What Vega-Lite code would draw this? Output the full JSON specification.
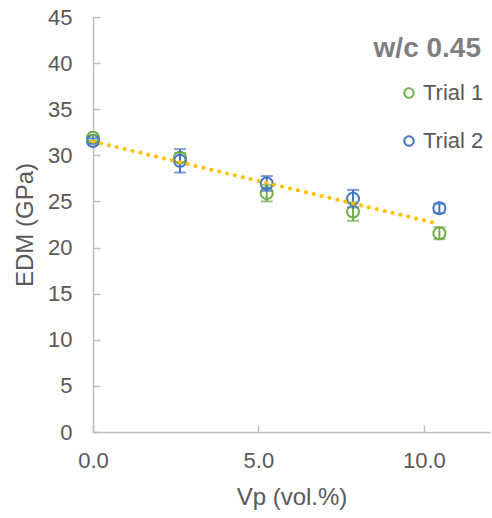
{
  "$schema": "https://vega.github.io/schema/vega-lite/v6.json",
  "width": 397,
  "height": 415,
  "autosize": {"type": "none"},
  "padding": {"left": 93, "top": 17, "right": 2, "bottom": 86},
  "background": "white",
  "title": {
    "text": "w/c 0.45",
    "anchor": "end",
    "orient": "top",
    "frame": "group",
    "offset": -42,
    "baseline": "alphabetic",
    "dx": -9,
    "dy": 37,
    "font": "Liberation Sans",
    "fontSize": 28,
    "fontWeight": "bold",
    "color": "#7F7F7F"
  },
  "config": {
    "view": {"stroke": null},
    "font": "Liberation Sans",
    "axis": {
      "grid": false,
      "domainColor": "#BFBFBF",
      "domainWidth": 1.5,
      "tickColor": "#BFBFBF",
      "tickWidth": 1.5,
      "tickSize": -7,
      "labelColor": "#595959",
      "titleColor": "#595959",
      "labelFont": "Liberation Sans",
      "titleFont": "Liberation Sans",
      "labelFontSize": 22,
      "titleFontSize": 24,
      "titleFontWeight": "normal",
      "labelFlush": false
    }
  },
  "datasets": {
    "points": [
      {"trial": "Trial 1", "vp": 0, "e": 31.9, "lo": 31.6, "hi": 32.2},
      {"trial": "Trial 1", "vp": 2.63, "e": 29.75, "lo": 29.25, "hi": 30.25},
      {"trial": "Trial 1", "vp": 5.25, "e": 25.9, "lo": 25.0, "hi": 26.8},
      {"trial": "Trial 1", "vp": 7.86, "e": 23.9, "lo": 22.9, "hi": 24.9},
      {"trial": "Trial 1", "vp": 10.47, "e": 21.55, "lo": 20.9, "hi": 22.2},
      {"trial": "Trial 2", "vp": 0, "e": 31.55, "lo": 31.25, "hi": 31.85},
      {"trial": "Trial 2", "vp": 2.63, "e": 29.4, "lo": 28.13, "hi": 30.67},
      {"trial": "Trial 2", "vp": 5.25, "e": 26.95, "lo": 26.15, "hi": 27.75},
      {"trial": "Trial 2", "vp": 7.86, "e": 25.3, "lo": 24.35, "hi": 26.25},
      {"trial": "Trial 2", "vp": 10.47, "e": 24.25, "lo": 23.75, "hi": 24.75}
    ],
    "trend": [
      {"vp": 0, "e": 31.5},
      {"vp": 10.47, "e": 22.55}
    ]
  },
  "layer": [
    {
      "data": {"name": "points"},
      "mark": {"type": "point", "shape": "circle", "filled": false, "size": 144, "strokeWidth": 2, "opacity": 1},
      "encoding": {
        "x": {
          "field": "vp", "type": "quantitative",
          "scale": {"domain": [0, 12], "nice": false},
          "axis": {"values": [0, 5, 10], "format": ".1f", "title": "Vp (vol.%)", "labelPadding": 25, "titlePadding": 14, "labelBaseline": "top"}
        },
        "y": {
          "field": "e", "type": "quantitative",
          "scale": {"domain": [0, 45], "nice": false},
          "axis": {"values": [0, 5, 10, 15, 20, 25, 30, 35, 40, 45], "title": "EDM (GPa)", "labelPadding": 28, "titlePadding": 10}
        },
        "color": {
          "field": "trial", "type": "nominal",
          "scale": {"domain": ["Trial 1", "Trial 2"], "range": ["#70AD47", "#4472C4"]},
          "legend": {
            "orient": "none",
            "legendX": 305,
            "legendY": 65,
            "title": null,
            "padding": 0,
            "symbolType": "M-1,0A1,1,0,1,0,1,0A1,1,0,1,0,-1,0ZM-0.72,0A0.72,0.72,0,1,1,0.72,0A0.72,0.72,0,1,1,-0.72,0Z",
            "symbolSize": 121,
            "symbolStrokeWidth": 0.4,
            "labelFont": "Liberation Sans",
            "labelFontSize": 22,
            "labelColor": "#595959",
            "labelOffset": 3,
            "rowPadding": 26
          }
        }
      }
    },
    {
      "data": {"name": "points"},
      "mark": {"type": "rule", "strokeWidth": 2},
      "encoding": {
        "x": {"field": "vp", "type": "quantitative"},
        "y": {"field": "lo", "type": "quantitative"},
        "y2": {"field": "hi"},
        "stroke": {"field": "trial", "type": "nominal", "scale": {"domain": ["Trial 1", "Trial 2"], "range": ["#70AD47", "#4472C4"]}, "legend": null}
      }
    },
    {
      "data": {"name": "points"},
      "mark": {"type": "tick", "orient": "horizontal", "size": 12, "thickness": 2},
      "encoding": {
        "x": {"field": "vp", "type": "quantitative"},
        "y": {"field": "lo", "type": "quantitative"},
        "fill": {"field": "trial", "type": "nominal", "scale": {"domain": ["Trial 1", "Trial 2"], "range": ["#70AD47", "#4472C4"]}, "legend": null}
      }
    },
    {
      "data": {"name": "points"},
      "mark": {"type": "tick", "orient": "horizontal", "size": 12, "thickness": 2},
      "encoding": {
        "x": {"field": "vp", "type": "quantitative"},
        "y": {"field": "hi", "type": "quantitative"},
        "fill": {"field": "trial", "type": "nominal", "legend": null}
      }
    },
    {
      "data": {"name": "trend"},
      "mark": {"type": "line", "color": "#FFC000", "strokeWidth": 4, "strokeDash": [0.1, 8], "strokeCap": "round"},
      "encoding": {
        "x": {"field": "vp", "type": "quantitative"},
        "y": {"field": "e", "type": "quantitative"}
      }
    }
  ]
}
